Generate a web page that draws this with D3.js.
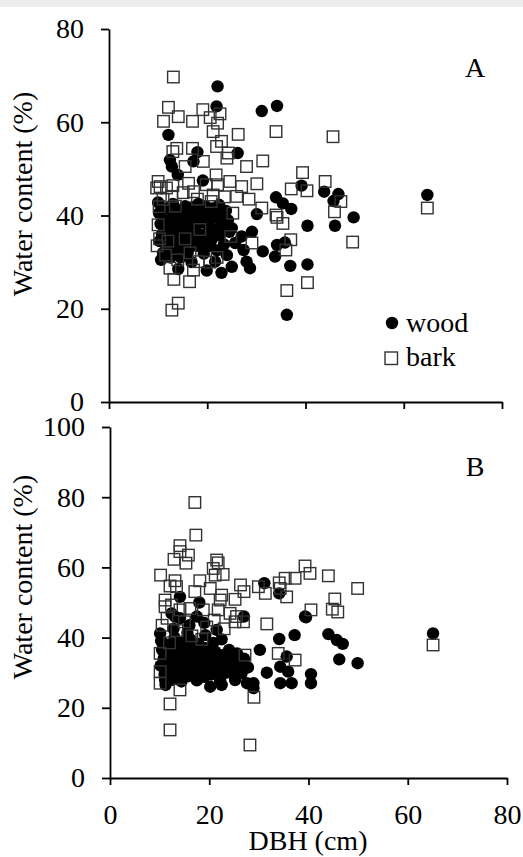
<!DOCTYPE html>
<html>
<head>
<meta charset="utf-8">
<script src="https://cdn.jsdelivr.net/npm/d3@7"></script>
<style>
  body { margin: 0; background: #fff; }
  svg { display: block; }
  svg text { font-family: "Liberation Serif", "Times New Roman", serif; }
</style>
</head>
<body>
<svg width="523" height="857"></svg>
<script>
// данные: [DBH (cm), water content (%)]
const xTicks = [0, 20, 40, 60, 80];
const yTicksA = [0, 20, 40, 60, 80];
const yTicksB = [0, 20, 40, 60, 80, 100];
const seriesNames = ["wood", "bark"];
const panelLabels = ["A", "B"];

// панель A - древесина
const woodA = [
  [22.1,67.7],[21.9,63.4],[31.1,62.4],[34.2,63.5],[12.1,57.3],[18.0,53.6],[26.2,53.4],[12.4,51.9],
  [12.8,50.5],[17.2,51.6],[14.0,48.7],[19.1,47.5],[39.2,46.4],[43.8,45.1],[46.7,44.6],[45.7,43.1],
  [64.8,44.4],[34.0,43.9],[35.4,42.6],[37.1,41.4],[30.1,40.3],[10.0,42.8],[49.8,39.6],[40.4,37.8],
  [46.0,37.8],[40.4,29.5],[36.2,18.7],[29.1,36.5],[25.0,37.3],[34.2,33.7],[35.8,34.2],[33.8,31.2],
  [31.3,32.3],[27.0,35.5],[25.7,34.1],[27.4,32.6],[28.0,30.1],[28.7,28.7],[25.0,29.0],[22.9,27.7],
  [19.9,28.2],[21.6,30.1],[14.1,28.5],[36.9,29.2],
  [10.2,40.5],[10.5,38.2],[10.8,36.0],[10.3,34.5],[11.0,32.0],[10.6,30.5],[11.5,41.5],[11.8,39.0],
  [12.0,37.5],[12.3,35.2],[12.0,33.0],[12.5,31.0],[13.0,42.5],[13.2,40.0],[13.5,38.5],[13.0,36.5],
  [13.8,34.0],[13.5,32.5],[14.2,41.0],[14.5,39.5],[14.8,37.0],[14.3,35.5],[15.0,33.5],[14.6,31.0],
  [15.5,42.0],[15.8,40.2],[16.0,38.0],[15.6,36.2],[16.3,34.6],[16.0,32.0],[16.8,30.0],[17.0,41.8],
  [17.3,39.3],[17.5,37.5],[17.0,35.8],[17.8,33.5],[18.2,42.5],[18.5,40.5],[18.8,38.5],[18.3,36.0],
  [19.0,34.2],[19.3,31.8],[19.6,42.0],[20.0,39.8],[20.3,37.7],[19.8,36.0],[20.6,33.5],[21.0,41.5],
  [21.3,39.5],[21.6,37.0],[21.0,35.0],[22.0,32.5],[22.4,42.3],[22.7,40.0],[23.0,38.0],[22.5,35.8],
  [23.4,33.8],[23.8,41.0],[24.2,39.0],[24.5,36.5],[24.0,31.5]
];

// панель A - кора
const barkA = [
  [13.1,69.7],[12.1,63.2],[14.1,61.2],[11.1,60.2],[17.0,60.2],[19.1,62.7],[20.6,61.0],[22.6,61.8],
  [22.1,59.8],[21.2,58.0],[22.9,55.9],[21.9,54.8],[26.3,57.4],[34.0,58.0],[13.8,54.4],[13.0,53.7],
  [17.0,54.4],[19.2,51.6],[24.3,53.4],[24.0,52.3],[15.5,50.5],[28.0,50.5],[31.3,51.7],[39.4,49.2],
  [21.8,48.7],[24.6,47.3],[30.1,46.8],[37.1,45.7],[40.3,45.3],[10.0,47.3],[10.4,46.2],[9.7,45.9],
  [11.7,45.9],[13.0,46.4],[16.2,46.9],[15.1,44.9],[17.2,45.1],[19.8,46.6],[22.1,46.6],[27.0,46.2],
  [21.2,44.4],[26.0,44.1],[12.8,44.1],[31.1,41.6],[34.0,40.1],[25.2,40.5],[10.2,41.9],[45.6,56.9],
  [44.0,47.3],[47.2,43.0],[45.9,40.8],[49.6,34.3],[40.4,25.6],[64.8,41.6],[34.2,39.6],[35.4,38.3],
  [37.0,34.8],[36.0,32.6],[29.1,34.1],[13.2,26.3],[16.4,25.8],[12.4,28.7],[17.2,28.3],[18.2,30.1],
  [14.1,21.2],[12.8,19.7],[36.2,23.9],
  [10.0,38.0],[10.3,35.0],[9.8,33.5],[11.5,31.5],[12.0,34.5],[14.0,30.5],[16.5,32.0],[18.5,37.0],
  [20.5,30.0],[11.0,43.5],[13.5,42.0],[18.0,43.5],[20.8,43.0],[23.5,44.0],[15.5,35.0],[22.0,31.0],
  [24.8,35.5],[28.5,43.5]
];

// панель B - древесина
const woodB = [
  [31.1,55.5],[34.1,52.6],[14.1,51.6],[18.0,50.0],[27.0,46.0],[39.3,46.0],[12.4,46.9],[13.1,46.0],
  [14.1,45.5],[17.5,46.0],[19.0,44.2],[10.1,41.2],[15.6,41.4],[21.5,42.2],[19.2,40.7],[34.1,39.6],
  [37.2,40.7],[39.5,45.8],[44.0,41.0],[45.7,39.3],[46.9,38.2],[46.2,33.8],[49.9,32.7],[40.5,29.6],
  [40.5,27.0],[65.1,41.2],[28.9,25.6],[28.9,27.0],[27.6,27.0],[31.6,30.0],[34.3,31.7],[35.9,30.3],
  [34.3,27.0],[36.6,27.0],[30.2,36.5],[35.6,34.6],[20.2,26.0],[11.1,27.9],[14.1,27.9],[22.5,26.5],
  [25.2,27.9],
  [10.3,39.0],[10.5,36.5],[10.8,34.0],[10.2,32.0],[11.0,29.5],[11.5,38.0],[11.8,35.5],[12.2,33.2],
  [12.0,30.8],[12.6,28.0],[13.0,40.0],[13.3,37.2],[13.6,34.8],[13.2,32.5],[14.0,30.0],[14.4,27.5],
  [14.6,38.8],[15.0,36.0],[15.2,33.6],[14.8,31.2],[15.8,29.0],[16.2,39.5],[16.5,37.0],[16.8,34.5],
  [16.3,32.0],[17.2,30.5],[17.5,27.8],[17.8,38.2],[18.2,35.8],[18.5,33.0],[18.0,31.0],[19.0,28.8],
  [19.3,37.0],[19.6,34.2],[20.0,31.8],[20.4,29.5],[20.8,38.5],[21.2,36.0],[21.5,33.5],[21.8,30.5],
  [22.2,27.8],[22.6,35.0],[23.0,32.8],[23.4,30.0],[24.0,36.5],[24.4,33.8],[24.8,31.0],[25.2,28.5],
  [25.6,35.5],[26.0,32.5],[26.5,29.8],[27.0,34.0],[27.8,31.5],[22.5,39.5],[11.2,26.5],[12.8,42.5],
  [16.0,43.5]
];

// панель B - кора
const barkB = [
  [17.1,78.5],[17.3,69.2],[14.1,66.2],[14.1,64.5],[15.8,63.5],[12.9,62.3],[15.3,61.2],[21.5,62.1],
  [21.8,61.3],[20.8,59.7],[21.2,57.8],[22.8,58.0],[10.2,57.8],[18.1,56.2],[13.1,56.2],[12.1,54.7],
  [13.4,54.5],[20.2,54.0],[26.3,55.0],[27.0,53.1],[29.9,54.5],[34.1,55.6],[34.3,54.0],[35.3,56.9],
  [37.3,56.9],[39.3,60.4],[40.3,58.3],[35.6,51.6],[31.3,52.6],[17.1,53.1],[22.5,52.1],[22.2,50.7],
  [25.2,50.9],[11.1,50.7],[11.1,48.8],[12.4,49.3],[14.1,47.9],[16.1,48.3],[18.8,47.9],[21.8,47.9],
  [24.2,46.9],[25.5,46.0],[40.5,47.9],[31.6,43.9],[25.2,44.5],[26.9,44.5],[44.0,57.6],[49.9,54.0],
  [45.3,51.0],[44.8,48.1],[45.9,47.3],[65.1,37.9],[12.1,21.1],[12.1,13.7],[28.2,9.4],[29.0,23.0],
  [14.1,25.1],[10.1,27.0],[10.1,30.3],[10.1,35.5],[33.9,35.5],[37.3,33.6],[27.2,35.0],
  [10.5,43.5],[11.5,45.5],[13.5,42.0],[15.0,44.5],[19.5,43.0],[12.0,38.5],[16.5,40.5],[23.0,42.5],
  [18.5,39.5],[21.0,45.0]
];

const svg = d3.select("svg");
const fontSize = 28;
const serif = '"Liberation Serif", "Times New Roman", serif';

// серая полоса сверху
svg.append("rect").attr("x", 0).attr("y", 0).attr("width", 523).attr("height", 7).attr("fill", "#ececec");

const panels = [
  { wood: woodA, bark: barkA, yMax: 80, yTicks: yTicksA, xRange: [109, 502], yRange: [402, 29],
    showX: false, label: panelLabels[0], labelY: 77, titleY: 194, legend: true },
  { wood: woodB, bark: barkB, yMax: 100, yTicks: yTicksB, xRange: [110, 507], yRange: [778, 427],
    showX: true, label: panelLabels[1], labelY: 476, titleY: 577, legend: false }
];

panels.forEach(p => {
  const scX = d3.scaleLinear().domain([0, 80]).range(p.xRange);
  const scY = d3.scaleLinear().domain([0, p.yMax]).range(p.yRange);

  const axisX = d3.axisBottom(scX).tickValues(xTicks).tickSize(7).tickSizeOuter(0).tickPadding(19);
  if (!p.showX) axisX.tickFormat("");
  const gx = svg.append("g")
    .attr("transform", `translate(0, ${p.yRange[0]})`)
    .call(axisX);

  const gy = svg.append("g")
    .attr("transform", `translate(${p.xRange[0]}, 0)`)
    .call(d3.axisLeft(scY).tickValues(p.yTicks).tickSize(8).tickSizeOuter(0).tickPadding(17));

  [gx, gy].forEach(g => {
    g.attr("font-family", serif).attr("font-size", fontSize);
    g.selectAll("path, line").attr("stroke", "#000").attr("stroke-width", 1.8);
    g.selectAll("text").attr("fill", "#000");
  });

  // подпись оси Y
  svg.append("text")
    .attr("transform", `translate(32, ${p.titleY}) rotate(-90)`)
    .attr("text-anchor", "middle")
    .attr("font-family", serif)
    .attr("font-size", fontSize)
    .text("Water content (%)");

  // буква панели
  svg.append("text")
    .attr("x", 475).attr("y", p.labelY)
    .attr("text-anchor", "middle")
    .attr("font-family", serif)
    .attr("font-size", fontSize)
    .text(p.label);

  // точки: древесина
  svg.append("g").selectAll("circle")
    .data(p.wood)
    .enter()
    .append("circle")
    .attr("cx", d => scX(d[0]))
    .attr("cy", d => scY(d[1]))
    .attr("r", 6.2)
    .attr("fill", "#000");

  // квадраты: кора
  const s = 11.5;
  svg.append("g").selectAll("rect")
    .data(p.bark)
    .enter()
    .append("rect")
    .attr("x", d => scX(d[0]) - s / 2)
    .attr("y", d => scY(d[1]) - s / 2)
    .attr("width", s)
    .attr("height", s)
    .attr("fill", "none")
    .attr("stroke", "#333")
    .attr("stroke-width", 1.4);

  if (p.legend) {
    svg.append("circle").attr("cx", 392).attr("cy", 323).attr("r", 6.2).attr("fill", "#000");
    svg.append("text").attr("x", 406).attr("y", 332)
      .attr("font-family", serif).attr("font-size", fontSize).text(seriesNames[0]);
    svg.append("rect").attr("x", 385).attr("y", 352).attr("width", 12.5).attr("height", 12.5)
      .attr("fill", "none").attr("stroke", "#333").attr("stroke-width", 1.4);
    svg.append("text").attr("x", 406).attr("y", 366)
      .attr("font-family", serif).attr("font-size", fontSize).text(seriesNames[1]);
  }
});

// подпись оси X
svg.append("text")
  .attr("x", 308).attr("y", 850)
  .attr("text-anchor", "middle")
  .attr("font-family", serif)
  .attr("font-size", fontSize)
  .text("DBH (cm)");
</script>
</body>
</html>
